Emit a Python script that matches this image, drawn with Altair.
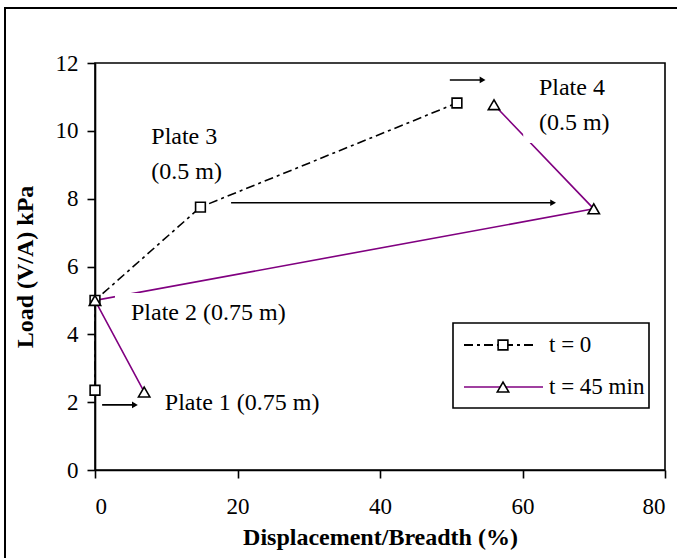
import altair as alt
import pandas as pd

# t = 0 series (squares, dash-dot black)
t0_x = [0.0, 0.0, 14.8, 50.8]
t0_y = [2.35, 5.0, 7.75, 10.82]
# t = 45 min series (triangles, purple)
t45_x = [6.9, 0.0, 70.0, 56.0]
t45_y = [2.3, 5.0, 7.7, 10.77]

# arrows
arrow_x0 = [1.0, 19.1, 49.8]
arrow_x1 = [5.6, 64.3, 54.4]
arrow_y = [1.92, 7.88, 11.5]

# annotations
ann_text = ["Plate 3", "(0.5 m)", "Plate 4", "(0.5 m)", "Plate 2 (0.75 m)", "Plate 1 (0.75 m)"]
ann_x = [7.9, 7.9, 62.3, 62.3, 5.05, 9.8]
ann_y = [9.82, 8.79, 11.26, 10.23, 4.63, 1.98]

# white label boxes that hide lines under labels
box_x0 = [60.1, 2.8]
box_x1 = [74.0, 27.5]
box_y0 = [9.64, 4.13]
box_y1 = [11.8, 5.22]

FONT = "Liberation Serif"
PURPLE = "#800080"

df0 = pd.DataFrame({"x": t0_x, "y": t0_y, "o": range(len(t0_x))})
df45 = pd.DataFrame({"x": t45_x, "y": t45_y, "o": range(len(t45_x))})
dfa = pd.DataFrame({"x0": arrow_x0, "x1": arrow_x1, "y": arrow_y})
dft = pd.DataFrame({"t": ann_text, "x": ann_x, "y": ann_y})
dfb = pd.DataFrame({"x0": box_x0, "x1": box_x1, "y0": box_y0, "y1": box_y1})
one = pd.DataFrame({"k": [0]})

xs = alt.Scale(domain=[0, 80], nice=False)
ys = alt.Scale(domain=[0, 12], nice=False)

xaxis = alt.Axis(values=[0, 20, 40, 60, 80], title="Displacement/Breadth (%)",
                 grid=False, tickSize=8, labelPadding=17, titlePadding=7)
yaxis = alt.Axis(values=[0, 2, 4, 6, 8, 10, 12], title="Load (V/A) kPa",
                 grid=False, tickSize=8, labelPadding=9, titlePadding=18)

X = alt.X("x:Q", scale=xs, axis=xaxis)
Y = alt.Y("y:Q", scale=ys, axis=yaxis)

line0 = alt.Chart(df0).mark_line(color="black", strokeWidth=1.6, strokeDash=[9, 4, 3, 4]).encode(
    x=X, y=Y, order="o:Q")
line45 = alt.Chart(df45).mark_line(color=PURPLE, strokeWidth=1.6).encode(
    x=alt.X("x:Q", scale=xs), y=alt.Y("y:Q", scale=ys), order="o:Q")

boxes = alt.Chart(dfb).mark_rect(fill="white").encode(
    x=alt.X("x0:Q", scale=xs), x2="x1:Q", y=alt.Y("y0:Q", scale=ys), y2="y1:Q")

texts = alt.Chart(dft).mark_text(font=FONT, fontSize=24, align="left", baseline="middle",
                                 color="black").encode(
    x=alt.X("x:Q", scale=xs), y=alt.Y("y:Q", scale=ys), text="t:N")

pts0 = alt.Chart(df0).mark_point(shape="square", size=95, filled=True, fill="white",
                                 stroke="black", strokeWidth=1.6, opacity=1).encode(
    x=alt.X("x:Q", scale=xs), y=alt.Y("y:Q", scale=ys))
pts45 = alt.Chart(df45).mark_point(shape="triangle-up", size=130, filled=True, fill="white",
                                   stroke="black", strokeWidth=1.6, opacity=1).encode(
    x=alt.X("x:Q", scale=xs), y=alt.Y("y:Q", scale=ys))

arrows = alt.Chart(dfa).mark_rule(color="black", strokeWidth=1.6).encode(
    x=alt.X("x0:Q", scale=xs), x2="x1:Q", y=alt.Y("y:Q", scale=ys))
heads = alt.Chart(dfa).mark_point(shape="triangle-right", size=45, filled=True,
                                  color="black", opacity=1).encode(
    x=alt.X("x1:Q", scale=xs), y=alt.Y("y:Q", scale=ys))

# legend (drawn manually)
leg_box = alt.Chart(one).mark_rect(fill="white", stroke="black", strokeWidth=1.6).encode(
    x=alt.value(358), x2=alt.value(554), y=alt.value(260), y2=alt.value(345))
leg_l0 = alt.Chart(one).mark_rule(color="black", strokeWidth=1.8, strokeDash=[9, 4, 3, 4]).encode(
    x=alt.value(369), x2=alt.value(442), y=alt.value(282))
leg_l45 = alt.Chart(one).mark_rule(color=PURPLE, strokeWidth=1.6).encode(
    x=alt.value(369), x2=alt.value(448), y=alt.value(324))
leg_p0 = alt.Chart(one).mark_point(shape="square", size=95, filled=True, fill="white",
                                   stroke="black", strokeWidth=1.6, opacity=1).encode(
    x=alt.value(408), y=alt.value(282))
leg_p45 = alt.Chart(one).mark_point(shape="triangle-up", size=130, filled=True, fill="white",
                                    stroke="black", strokeWidth=1.6, opacity=1).encode(
    x=alt.value(408), y=alt.value(324))
leg_t0 = alt.Chart(one).mark_text(font=FONT, fontSize=23, align="left", baseline="middle",
                                  color="black", text="t = 0").encode(x=alt.value(454), y=alt.value(282))
leg_t45 = alt.Chart(one).mark_text(font=FONT, fontSize=23, align="left", baseline="middle",
                                   color="black", text="t = 45 min").encode(x=alt.value(454), y=alt.value(324))

outer = alt.Chart(one).mark_rect(fill=None, stroke="black", strokeWidth=2).encode(
    x=alt.value(-90), x2=alt.value(640), y=alt.value(-55), y2=alt.value(540))

chart = alt.layer(
    outer, line0, line45, boxes, texts, pts0, pts45, arrows, heads,
    leg_box, leg_l0, leg_l45, leg_p0, leg_p45, leg_t0, leg_t45
).properties(
    width=570, height=407,
    autosize=alt.AutoSizeParams(type="none"),
    padding={"left": 95, "top": 63, "right": 12, "bottom": 88},
    background="white",
).configure_view(
    stroke="black", strokeWidth=1.6
).configure_axis(
    labelFont=FONT, labelFontSize=23, labelColor="black",
    titleFont=FONT, titleFontSize=24, titleFontWeight="bold", titleColor="black",
    domainColor="black", domainWidth=1.6, tickColor="black", tickWidth=1.6,
)

chart.save("out.html", embed_options={"renderer": "svg", "actions": False})
